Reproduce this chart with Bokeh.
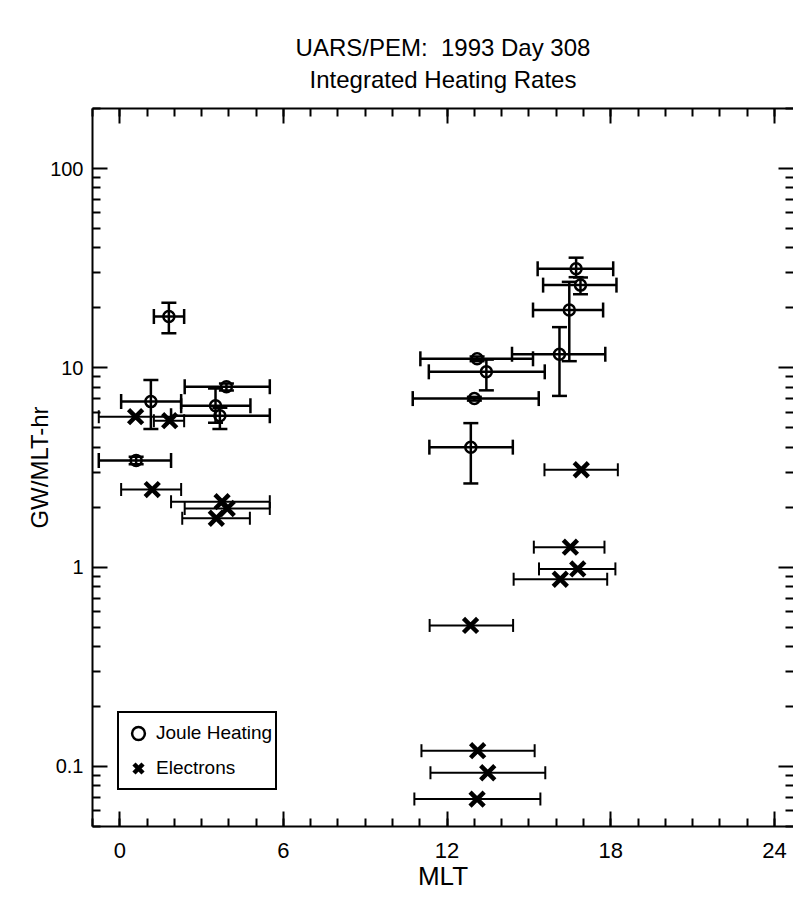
from bokeh.plotting import figure
from bokeh.models import (ColumnDataSource, Whisker, TeeHead, FixedTicker, LinearAxis, LogAxis,
                          Legend, LegendItem, Title, CustomJSTickFormatter, Range1d)
from bokeh.embed import file_html
from bokeh.resources import INLINE

# ---------------- data ----------------
# Joule heating: MLT centre, MLT range, value and vertical error range (GW/MLT-hr)
joule_mlt = [0.60, 1.14, 1.80, 3.51, 3.67, 3.91, 12.87, 13.00, 13.10, 13.44, 16.12, 16.48, 16.73, 16.89]
joule_mlt_lo = [-0.77, 0.05, 1.25, 2.25, 1.88, 2.38, 11.35, 10.74, 11.02, 11.33, 14.38, 15.15, 15.32, 15.52]
joule_mlt_hi = [1.88, 2.25, 2.36, 4.79, 5.50, 5.50, 14.41, 15.36, 15.15, 15.58, 17.80, 17.72, 18.09, 18.21]
joule_val = [3.43, 6.77, 18.1, 6.45, 5.75, 8.04, 4.00, 7.01, 11.1, 9.55, 11.7, 19.5, 31.4, 26.0]
joule_val_lo = [3.28, 4.93, 14.9, 5.30, 4.93, 7.70, 2.63, 6.85, 10.8, 7.71, 7.23, 10.8, 28.5, 23.4]
joule_val_hi = [3.58, 8.69, 21.2, 7.87, 6.30, 8.35, 5.28, 7.15, 11.4, 11.0, 16.0, 27.0, 35.7, 28.4]

# Electrons: MLT centre, MLT range, value
elec_mlt = [0.58, 1.19, 1.83, 3.54, 3.75, 3.94, 12.86, 13.10, 13.12, 13.49, 16.15, 16.52, 16.79, 16.92]
elec_mlt_lo = [-0.77, 0.05, 1.25, 2.29, 1.88, 2.38, 11.36, 10.80, 11.06, 11.39, 14.44, 15.18, 15.37, 15.57]
elec_mlt_hi = [1.88, 2.25, 2.36, 4.77, 5.50, 5.50, 14.42, 15.42, 15.21, 15.60, 17.87, 17.77, 18.17, 18.26]
elec_val = [5.69, 2.45, 5.43, 1.76, 2.13, 1.97, 0.51, 0.0686, 0.120, 0.093, 0.87, 1.26, 0.98, 3.08]

x_major = [0, 6, 12, 18, 24]
x_minor = list(range(-1, 26))
y_major = [0.1, 1, 10, 100]
y_minor = [m * 10.0 ** k for k in range(-2, 3) for m in range(2, 10)]

title_lines = ["UARS/PEM:\u00a0 1993 Day 308", "Integrated Heating Rates"]
x_label = "MLT"
y_label = "GW/MLT-hr"
legend_labels = ["Joule Heating", "Electrons"]

FONT = "Liberation Sans"

# ---------------- figure ----------------
p = figure(width=793, height=913, x_range=Range1d(-1, 24.7), y_range=Range1d(0.05, 200),
           y_axis_type="log", output_backend="svg", toolbar_location=None, title_location=None,
           min_border_left=92, min_border_right=0, min_border_top=108, min_border_bottom=87,
           background_fill_color="white", border_fill_color="white")
p.outline_line_color = None
p.xgrid.visible = False
p.ygrid.visible = False

xticker = FixedTicker(ticks=x_major, minor_ticks=x_minor)
yticker = FixedTicker(ticks=y_major, minor_ticks=y_minor)
yfmt = CustomJSTickFormatter(code="return String(Number(tick.toPrecision(6)));")
blankfmt = CustomJSTickFormatter(code="return '';")


def style(ax, labels=True):
    ax.axis_line_width = 2
    ax.axis_line_color = "black"
    ax.major_tick_in = 15
    ax.major_tick_out = 0
    ax.minor_tick_in = 8
    ax.minor_tick_out = 0
    ax.major_tick_line_width = 2
    ax.minor_tick_line_width = 2
    ax.major_tick_line_color = "black"
    ax.minor_tick_line_color = "black"
    ax.major_label_text_color = "black"
    ax.axis_label_text_color = "black"
    if not labels:
        ax.formatter = blankfmt
        ax.major_label_standoff = 0
        ax.axis_label = None


xa = p.xaxis[0]
xa.ticker = xticker
style(xa)
xa.axis_label = x_label
xa.axis_label_text_font = FONT
xa.axis_label_text_font_style = "normal"
xa.axis_label_text_font_size = "26px"
xa.axis_label_standoff = 0
xa.major_label_text_font = FONT
xa.major_label_text_font_size = "22px"
xa.major_label_standoff = 16

ya = p.yaxis[0]
ya.ticker = yticker
ya.formatter = yfmt
style(ya)
ya.axis_label = y_label
ya.axis_label_text_font = FONT
ya.axis_label_text_font_style = "normal"
ya.axis_label_text_font_size = "24px"
ya.axis_label_standoff = -6
ya.major_label_text_font = FONT
ya.major_label_text_font_size = "20px"
ya.major_label_standoff = 9

top_ax = LinearAxis(ticker=xticker)
style(top_ax, labels=False)
p.add_layout(top_ax, "above")

right_ax = LogAxis(ticker=yticker)
style(right_ax, labels=False)
right_ax.axis_line_color = None
p.add_layout(right_ax, "right")

t2 = Title(text=title_lines[1], align="center", text_font=FONT, text_font_style="normal",
           text_font_size="24px", text_color="black", standoff=32)
p.add_layout(t2, "above")
t1 = Title(text=title_lines[0], align="center", text_font=FONT, text_font_style="normal",
           text_font_size="24px", text_color="black", standoff=-26)
p.add_layout(t1, "above")

# ---------------- data sources ----------------
jsrc = ColumnDataSource(dict(x=joule_mlt, xl=joule_mlt_lo, xh=joule_mlt_hi,
                             y=joule_val, yl=joule_val_lo, yh=joule_val_hi))
esrc = ColumnDataSource(dict(x=elec_mlt, xl=elec_mlt_lo, xh=elec_mlt_hi, y=elec_val))

# electron horizontal bars
p.add_layout(Whisker(source=esrc, base="y", lower="xl", upper="xh", dimension="width",
                     line_width=2, line_color="black", level="glyph",
                     lower_head=TeeHead(size=13, line_width=2, line_color="black"),
                     upper_head=TeeHead(size=13, line_width=2, line_color="black")))
# joule horizontal bars
p.add_layout(Whisker(source=jsrc, base="y", lower="xl", upper="xh", dimension="width",
                     line_width=2.5, line_color="black", level="glyph",
                     lower_head=TeeHead(size=15, line_width=2.5, line_color="black"),
                     upper_head=TeeHead(size=15, line_width=2.5, line_color="black")))
# joule vertical bars
p.add_layout(Whisker(source=jsrc, base="x", lower="yl", upper="yh", dimension="height",
                     line_width=2.5, line_color="black", level="glyph",
                     lower_head=TeeHead(size=15, line_width=2.5, line_color="black"),
                     upper_head=TeeHead(size=15, line_width=2.5, line_color="black")))

jr = p.scatter(x="x", y="y", source=jsrc, marker="circle", size=11, fill_color="white",
               line_color="black", line_width=2.5)
er = p.scatter(x="x", y="y", source=esrc, marker="x", size=20, line_color="black", line_width=4.5)

legend = Legend(items=[LegendItem(label=legend_labels[0], renderers=[jr]),
                       LegendItem(label=legend_labels[1], renderers=[er])],
                location=(25, 36), border_line_color="black", border_line_width=2,
                border_line_alpha=1.0,
                background_fill_color="white", background_fill_alpha=1.0,
                label_text_font=FONT, label_text_font_size="19px", label_text_color="black",
                glyph_width=32, glyph_height=34, label_height=34, label_standoff=2,
                padding=3, spacing=1, margin=0)
p.add_layout(legend)

open("out.html", "w").write(file_html(p, INLINE))
